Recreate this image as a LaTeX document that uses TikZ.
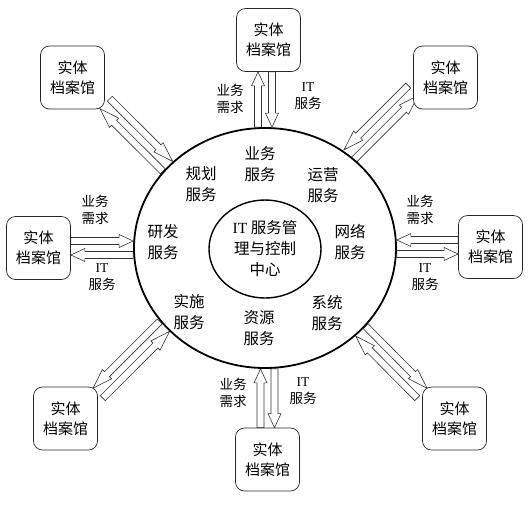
\documentclass[tikz,border=0pt]{standalone}
\usepackage{fontspec}
\setmainfont{Liberation Serif}
\newfontfamily\cjk{Noto Sans CJK SC}
\usepackage{tikz}
\usetikzlibrary{shapes.geometric, calc, backgrounds}

\newcommand{\IT}{{\rmfamily IT}}
\def\fahead{14}
% hollow block arrow from #1 to #2
\newcommand{\flowarrow}[2]{%
  \path (#1) coordinate (fa-s) (#2) coordinate (fa-e);
  \path ($(fa-e)!\fahead pt!(fa-s)$) coordinate (fa-h);
  \draw[flow] ($(fa-s)!3.5pt!90:(fa-e)$) -- ($(fa-h)!3.5pt!-90:(fa-s)$)
    -- ($(fa-h)!6.5pt!-90:(fa-s)$) -- (fa-e) -- ($(fa-h)!6.5pt!90:(fa-s)$)
    -- ($(fa-h)!3.5pt!90:(fa-s)$) -- ($(fa-s)!3.5pt!-90:(fa-e)$) -- cycle;
}
% two arrows side by side, the one on side #3 goes from #1 to #2
\newcommand{\flowpair}[3]{%
  \pgfmathsetmacro{\fpback}{-#3}%
  \flowarrow{$(#1)!7pt!#3:(#2)$}{$(#2)!7pt!\fpback:(#1)$}
  \flowarrow{$(#2)!7pt!#3:(#1)$}{$(#1)!7pt!\fpback:(#2)$}
}

\tikzset{
  archive/.style={draw=black!85, fill=white, line width=0.7pt, rounded corners=9pt,
    minimum width=64pt, minimum height=63pt, inner sep=0pt, align=center,
    font=\cjk\fontsize{15}{20}\selectfont},
  service/.style={align=center, font=\cjk\fontsize{15.5}{21}\selectfont},
  note/.style={align=center, font=\cjk\fontsize{13.5}{17}\selectfont},
  flow/.style={draw=black!80, fill=white, line width=0.6pt},
}

\begin{document}
\begin{tikzpicture}[x=1pt, y=-1pt]
  \useasboundingbox (0,0) rectangle (529,507);

  \node[draw, fill=white, line width=1.8pt, ellipse, minimum width=262pt,
    minimum height=240pt, inner sep=0pt] (outer) at (265,248) {};
  \node[draw, line width=1.4pt, ellipse, minimum width=112pt, minimum height=98pt,
    inner sep=0pt, service] (hub) at (265,249) {\IT{} 服务管\\理与控制\\中心};

  \foreach \nm/\pos/\txt in {biz/{260,164}/业务, plan/{201,184}/规划, ops/{323,185}/运营,
      dev/{163,242}/研发, net/{350,242}/网络, impl/{189,312}/实施,
      res/{259,328}/资源, sys/{327,313}/系统}{
    \node[service] (\nm) at (\pos) {\txt\\服务};
  }

  \node[archive] (top) at (268.5,40) {实体\\档案馆};
  \node[archive] (bottom) at (267.5,459.5) {实体\\档案馆};
  \node[archive] (left) at (38.5,248) {实体\\档案馆};
  \node[archive] (right) at (490.5,247) {实体\\档案馆};
  \node[archive] (tl) at (72.5,77.5) {实体\\档案馆};
  \node[archive] (tr) at (445.5,77.5) {实体\\档案馆};
  \node[archive] (br) at (454.5,418.5) {实体\\档案馆};
  \node[archive] (bl) at (65.5,418.5) {实体\\档案馆};

  \foreach \nm/\pos in {tn/{230,99}, ln/{95,210}, rn/{420,210}, bn/{233,393}}{
    \node[note] (\nm) at (\pos) {业务\\需求};
  }
  \foreach \nm/\pos in {ts/{308,96}, ls/{102,277}, rs/{425,277}, bs/{303,391}}{
    \node[note] (\nm) at (\pos) {\IT\\服务};
  }

  \coordinate (ta) at (top.south -| outer.north);
  \coordinate (ba) at (bottom.north |- outer.south);
  \coordinate (la) at (left.east -| outer.west);
  \coordinate (ra) at (right.west -| outer.east);

  \begin{pgfonlayer}{background}
    \flowpair{ta}{outer.north}{90}
    \flowpair{bottom.north}{ba}{90}
    \flowpair{left.east}{la}{90}
    \flowpair{right.west}{ra}{-90}
    \def\fahead{20}
    \flowpair{tl.-39}{outer.140}{90}
    \flowpair{tr.202}{outer.48}{-90}
    \flowpair{br.142}{outer.-41}{90}
    \flowpair{bl.38}{outer.218}{-90}
  \end{pgfonlayer}
\end{tikzpicture}
\end{document}
